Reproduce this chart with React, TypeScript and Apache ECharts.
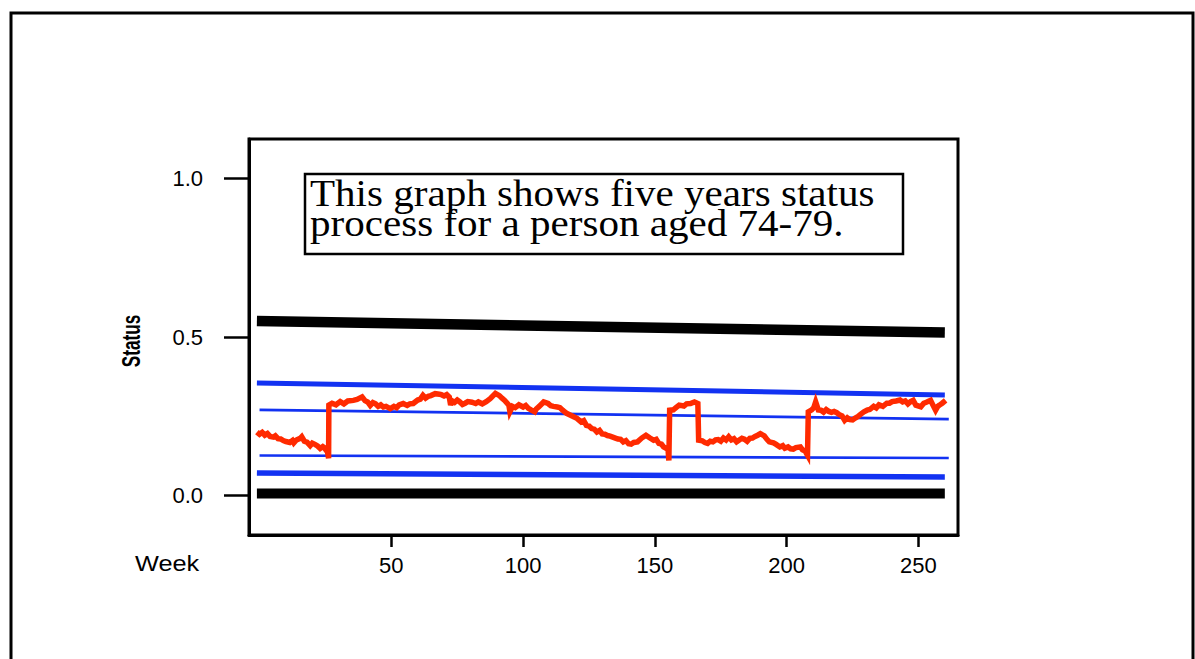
import React, { useEffect, useRef } from "react";
import * as echarts from "echarts";

// ---- data ----
const xTicks = [50, 100, 150, 200, 250];
const yTicks = [0, 0.5, 1.0];

const blackUpper = [[-1, 0.5505], [260, 0.514]];
const blackLower = [[-1, 0.006], [260, 0.006]];
const blueThickUpper = [[-1, 0.355], [260, 0.317]];
const blueThinUpper = [[0, 0.27], [261.5, 0.241]];
const blueThinLower = [[0, 0.126], [261.5, 0.118]];
const blueThickLower = [[-1, 0.0707], [260, 0.058]];

const statusWeeks = [
  -1, 0, 1, 2, 3, 4, 5.3, 6, 7, 8, 9, 10, 11.5, 12.5, 13, 14, 15.4, 16, 17, 18, 19.2, 20, 21, 22, 23, 24, 24.5, 25.8, 26.2,
  26.3, 27.5, 29, 30.6, 32, 33.5, 35.6, 37, 38.9, 40, 41, 42, 43, 44, 45, 46, 47, 48, 49.6, 51, 52, 53, 54.5, 56, 57, 58.3, 60,
  61, 62, 63, 64, 65, 66.6, 68.3, 69, 70, 71, 72, 72.5, 73, 74, 75, 76, 77, 78, 79, 80.6, 82, 83, 84.5, 86, 87.5, 89.5, 91, 92,
  93, 94.6, 95, 96, 97, 98.4, 100, 101, 102, 103, 104.4, 105, 106, 107.8, 109.5, 110.5, 111.5, 113, 114, 115, 116.5, 118, 119,
  120.4, 122, 123, 124, 125, 126, 127, 128, 129, 130, 131, 132, 133, 134, 135, 136, 137, 138, 139, 140, 141, 142, 143.4, 145,
  146.6, 148, 149.5, 150.5, 151.5, 152.5, 153.3, 155, 155.3,
  155.6, 157, 158, 159.2, 161, 162, 163.5, 165, 166.3,
  166.6, 168, 169, 170, 171, 172, 173, 174, 175, 176, 177, 178, 179, 180, 181, 182, 183, 184, 185, 186, 187, 188, 189, 190,
  191.5, 192.5, 193.4, 195, 196, 197.4, 198.5, 199.3, 200.5, 201.5, 202.5, 203.5, 205.2, 206, 207, 207.9,
  208.2, 209.5, 210.3, 211, 212, 213, 214, 215, 216, 217, 218, 219, 220, 221, 222, 223, 224, 225, 226, 227, 228, 229.3, 230.5,
  231.5, 233, 234, 235, 236.5, 238, 239, 240, 241.5, 243, 244, 245, 246, 247, 248, 249, 250.9, 252, 253, 254.6, 255.5, 256.5,
  257.3, 258, 259, 260.3,
];
const statusValues = [
  0.2, 0.193, 0.199, 0.19, 0.195, 0.186, 0.184, 0.188, 0.179, 0.178, 0.173, 0.17, 0.167, 0.173, 0.166, 0.175, 0.18, 0.185, 0.171, 0.168, 0.157, 0.165, 0.161, 0.156, 0.148, 0.154, 0.151, 0.137, 0.117,
  0.285, 0.291, 0.286, 0.296, 0.289, 0.298, 0.3, 0.303, 0.311, 0.299, 0.295, 0.284, 0.293, 0.289, 0.281, 0.286, 0.279, 0.281, 0.274, 0.281, 0.277, 0.286, 0.29, 0.284, 0.289, 0.29, 0.301,
  0.304, 0.316, 0.307, 0.313, 0.315, 0.321, 0.319, 0.318, 0.314, 0.318, 0.31, 0.285, 0.299, 0.294, 0.301, 0.295, 0.287, 0.291, 0.296, 0.294, 0.29, 0.295, 0.289, 0.296, 0.305, 0.322, 0.315, 0.307,
  0.3, 0.285, 0.264, 0.281, 0.277, 0.286, 0.279, 0.284, 0.275, 0.27, 0.264, 0.273, 0.28, 0.295, 0.29, 0.283, 0.281, 0.279, 0.277, 0.269, 0.259, 0.253, 0.249,
  0.243, 0.232, 0.236, 0.221, 0.219, 0.211, 0.209, 0.2, 0.205, 0.194, 0.193, 0.189, 0.187, 0.184, 0.181, 0.178, 0.177, 0.169, 0.173, 0.163, 0.162, 0.167, 0.169, 0.181,
  0.19, 0.182, 0.174, 0.177, 0.164, 0.162, 0.153, 0.145, 0.11,
  0.269, 0.27, 0.277, 0.285, 0.282, 0.289, 0.29, 0.295, 0.29,
  0.174, 0.172, 0.167, 0.164, 0.171, 0.169, 0.175, 0.176, 0.171, 0.181, 0.175, 0.185, 0.175, 0.179, 0.169, 0.175, 0.18, 0.177, 0.171, 0.18, 0.181, 0.186, 0.19, 0.195,
  0.188, 0.177, 0.169, 0.166, 0.161, 0.153, 0.157, 0.149, 0.153, 0.147, 0.146, 0.151, 0.153, 0.144, 0.14, 0.127,
  0.264, 0.27, 0.277, 0.295, 0.27, 0.269, 0.263, 0.271, 0.265, 0.262, 0.265, 0.261, 0.255, 0.251, 0.237, 0.245, 0.239, 0.238, 0.244, 0.249, 0.256, 0.264, 0.269,
  0.271, 0.281, 0.276, 0.286, 0.281, 0.291, 0.291, 0.296, 0.298, 0.301, 0.295, 0.298, 0.289, 0.296, 0.3, 0.285, 0.28, 0.291, 0.294, 0.3, 0.285, 0.269,
  0.281, 0.285, 0.291, 0.3,
];

const titleLines = ["This graph shows five years status", "process for a person aged 74-79."];

const RED = "#ff2a00";
const BLUE = "#1232f2";

export default function App() {
  const ref = useRef<HTMLDivElement>(null);
  useEffect(() => {
    if (!ref.current) return;
    const chart = echarts.init(ref.current, null, { renderer: "svg" });
    const statusData = statusWeeks.map((w, i) => [w, statusValues[i]]);
    const lineSeries = (data: number[][], color: string, width: number) => ({
      type: "line",
      data,
      symbol: "none",
      silent: true,
      lineStyle: { color, width, cap: "butt" },
    });
    const serifFont = "37px 'Liberation Serif', 'Times New Roman', Times, serif";
    chart.setOption({
      animation: false,
      backgroundColor: "#ffffff",
      grid: {
        left: 249,
        top: 139,
        width: 709,
        height: 396,
        show: true,
        borderColor: "#000",
        borderWidth: 3,
        backgroundColor: "transparent",
      },
      xAxis: {
        type: "value",
        min: -4,
        max: 265,
        axisLine: { show: true, onZero: false, lineStyle: { color: "#000", width: 3 } },
        splitLine: { show: false },
        axisTick: {
          show: true,
          customValues: xTicks,
          length: 12,
          lineStyle: { color: "#000", width: 2.5 },
        },
        axisLabel: {
          customValues: xTicks,
          fontSize: 22,
          color: "#000",
          margin: 19,
          fontFamily: "Liberation Sans, Arial, sans-serif",
        },
      },
      yAxis: {
        type: "value",
        min: -0.125,
        max: 1.125,
        axisLine: { show: true, onZero: false, lineStyle: { color: "#000", width: 3 } },
        splitLine: { show: false },
        axisTick: {
          show: true,
          customValues: yTicks,
          length: 25,
          lineStyle: { color: "#000", width: 2.5 },
        },
        axisLabel: {
          customValues: yTicks,
          fontSize: 22,
          color: "#000",
          margin: 46,
          fontFamily: "Liberation Sans, Arial, sans-serif",
          formatter: (v: number) => v.toFixed(1),
        },
      },
      series: [
        lineSeries(blackUpper, "#000", 10.5),
        lineSeries(blackLower, "#000", 10),
        lineSeries(blueThickUpper, BLUE, 5),
        lineSeries(blueThickLower, BLUE, 5.5),
        lineSeries(blueThinUpper, BLUE, 2.7),
        lineSeries(blueThinLower, BLUE, 2.7),
        {
          type: "line",
          data: statusData,
          symbol: "none",
          silent: true,
          lineStyle: { color: RED, width: 5.5, join: "miter" },
        },
      ],
      graphic: [
        {
          type: "rect",
          shape: { x: 11, y: 13, width: 1182, height: 700 },
          style: { fill: "none", stroke: "#000", lineWidth: 3 },
          silent: true,
        },
        {
          type: "rect",
          shape: { x: 305, y: 174, width: 598, height: 80 },
          style: { fill: "#fff", stroke: "#000", lineWidth: 2.5 },
          silent: true,
          z: 10,
        },
        {
          type: "text",
          x: 310,
          y: 193,
          scaleX: 1.11,
          z: 11,
          style: {
            text: titleLines[0],
            x: 0,
            y: 0,
            fill: "#000",
            font: serifFont,
            verticalAlign: "middle",
            align: "left",
          },
        },
        {
          type: "text",
          x: 310,
          y: 223,
          scaleX: 1.11,
          z: 11,
          style: {
            text: titleLines[1],
            x: 0,
            y: 0,
            fill: "#000",
            font: serifFont,
            verticalAlign: "middle",
            align: "left",
          },
        },
        {
          type: "text",
          x: 135,
          y: 564,
          scaleX: 1.15,
          style: {
            text: "Week",
            x: 0,
            y: 0,
            fill: "#000",
            font: "22px 'Liberation Sans', Arial, sans-serif",
            verticalAlign: "middle",
            align: "left",
          },
        },
        {
          type: "text",
          x: 131,
          y: 341,
          rotation: Math.PI / 2,
          scaleX: 0.66,
          style: {
            text: "Status",
            x: 0,
            y: 0,
            fill: "#000",
            font: "bold 26px 'Liberation Sans', Arial, sans-serif",
            verticalAlign: "middle",
            align: "center",
          },
        },
      ],
    });
    return () => chart.dispose();
  }, []);
  return (
    <div
      ref={ref}
      style={{ position: "absolute", left: 0, top: 0, width: 1195, height: 659, background: "#fff" }}
    />
  );
}
